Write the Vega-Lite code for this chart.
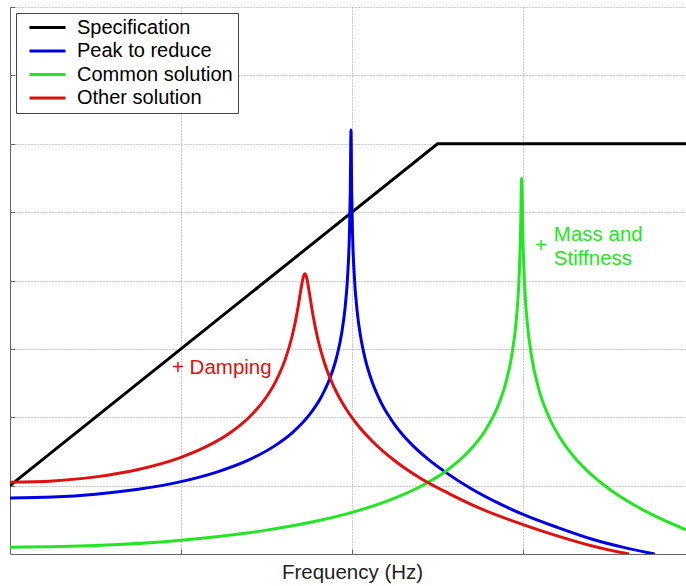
{
  "$schema": "https://vega.github.io/schema/vega-lite/v6.json",
  "width": 676,
  "height": 547,
  "autosize": {"type": "none"},
  "padding": {"left": 10, "top": 7, "right": 0, "bottom": 32},
  "background": "white",
  "config": {"view": {"stroke": null}, "font": "Liberation Sans"},
  "datasets": {
    "curves": [
      {"series": "Specification", "x": 0, "y": 1},
      {"series": "Specification", "x": 2.5, "y": 6},
      {"series": "Specification", "x": 3.953, "y": 6},

      {"series": "Peak to reduce", "x": 0, "y": 0.82},
      {"series": "Peak to reduce", "x": 0.25, "y": 0.833},
      {"series": "Peak to reduce", "x": 0.5, "y": 0.874},
      {"series": "Peak to reduce", "x": 0.75, "y": 0.946},
      {"series": "Peak to reduce", "x": 1.0, "y": 1.059},
      {"series": "Peak to reduce", "x": 1.2, "y": 1.191},
      {"series": "Peak to reduce", "x": 1.4, "y": 1.38},
      {"series": "Peak to reduce", "x": 1.55, "y": 1.585},
      {"series": "Peak to reduce", "x": 1.65, "y": 1.772},
      {"series": "Peak to reduce", "x": 1.75, "y": 2.034},
      {"series": "Peak to reduce", "x": 1.82, "y": 2.297},
      {"series": "Peak to reduce", "x": 1.87, "y": 2.566},
      {"series": "Peak to reduce", "x": 1.91, "y": 2.879},
      {"series": "Peak to reduce", "x": 1.94, "y": 3.237},
      {"series": "Peak to reduce", "x": 1.96, "y": 3.615},
      {"series": "Peak to reduce", "x": 1.975, "y": 4.092},
      {"series": "Peak to reduce", "x": 1.985, "y": 4.696},
      {"series": "Peak to reduce", "x": 1.99, "y": 5.322},
      {"series": "Peak to reduce", "x": 1.994, "y": 6.2},
      {"series": "Peak to reduce", "x": 1.998, "y": 5.32},
      {"series": "Peak to reduce", "x": 2.003, "y": 4.69},
      {"series": "Peak to reduce", "x": 2.013, "y": 4.084},
      {"series": "Peak to reduce", "x": 2.03, "y": 3.553},
      {"series": "Peak to reduce", "x": 2.05, "y": 3.184},
      {"series": "Peak to reduce", "x": 2.08, "y": 2.824},
      {"series": "Peak to reduce", "x": 2.12, "y": 2.501},
      {"series": "Peak to reduce", "x": 2.17, "y": 2.215},
      {"series": "Peak to reduce", "x": 2.245, "y": 1.908},
      {"series": "Peak to reduce", "x": 2.35, "y": 1.599},
      {"series": "Peak to reduce", "x": 2.45, "y": 1.376},
      {"series": "Peak to reduce", "x": 2.55, "y": 1.19},
      {"series": "Peak to reduce", "x": 2.7, "y": 0.95},
      {"series": "Peak to reduce", "x": 2.85, "y": 0.75},
      {"series": "Peak to reduce", "x": 3.0, "y": 0.58},
      {"series": "Peak to reduce", "x": 3.2, "y": 0.39},
      {"series": "Peak to reduce", "x": 3.4, "y": 0.22},
      {"series": "Peak to reduce", "x": 3.6, "y": 0.09},
      {"series": "Peak to reduce", "x": 3.77, "y": 0.0},

      {"series": "Common solution", "x": 0, "y": 0.1},
      {"series": "Common solution", "x": 0.5, "y": 0.124},
      {"series": "Common solution", "x": 1.0, "y": 0.202},
      {"series": "Common solution", "x": 1.5, "y": 0.349},
      {"series": "Common solution", "x": 1.8, "y": 0.486},
      {"series": "Common solution", "x": 2.0, "y": 0.609},
      {"series": "Common solution", "x": 2.2, "y": 0.769},
      {"series": "Common solution", "x": 2.4, "y": 0.987},
      {"series": "Common solution", "x": 2.55, "y": 1.214},
      {"series": "Common solution", "x": 2.68, "y": 1.494},
      {"series": "Common solution", "x": 2.78, "y": 1.811},
      {"series": "Common solution", "x": 2.85, "y": 2.145},
      {"series": "Common solution", "x": 2.9, "y": 2.511},
      {"series": "Common solution", "x": 2.935, "y": 2.918},
      {"series": "Common solution", "x": 2.96, "y": 3.411},
      {"series": "Common solution", "x": 2.975, "y": 3.941},
      {"series": "Common solution", "x": 2.985, "y": 4.649},
      {"series": "Common solution", "x": 2.992, "y": 5.493},
      {"series": "Common solution", "x": 2.999, "y": 4.647},
      {"series": "Common solution", "x": 3.009, "y": 3.936},
      {"series": "Common solution", "x": 3.025, "y": 3.375},
      {"series": "Common solution", "x": 3.05, "y": 2.887},
      {"series": "Common solution", "x": 3.09, "y": 2.43},
      {"series": "Common solution", "x": 3.15, "y": 2.011},
      {"series": "Common solution", "x": 3.22, "y": 1.685},
      {"series": "Common solution", "x": 3.3, "y": 1.416},
      {"series": "Common solution", "x": 3.4, "y": 1.161},
      {"series": "Common solution", "x": 3.5, "y": 0.959},
      {"series": "Common solution", "x": 3.62, "y": 0.761},
      {"series": "Common solution", "x": 3.75, "y": 0.582},
      {"series": "Common solution", "x": 3.953, "y": 0.353},

      {"series": "Other solution", "x": 0, "y": 1.05},
      {"series": "Other solution", "x": 0.25, "y": 1.069},
      {"series": "Other solution", "x": 0.5, "y": 1.128},
      {"series": "Other solution", "x": 0.75, "y": 1.236},
      {"series": "Other solution", "x": 1.0, "y": 1.414},
      {"series": "Other solution", "x": 1.15, "y": 1.573},
      {"series": "Other solution", "x": 1.3, "y": 1.796},
      {"series": "Other solution", "x": 1.4, "y": 2.004},
      {"series": "Other solution", "x": 1.5, "y": 2.3},
      {"series": "Other solution", "x": 1.56, "y": 2.555},
      {"series": "Other solution", "x": 1.61, "y": 2.85},
      {"series": "Other solution", "x": 1.65, "y": 3.188},
      {"series": "Other solution", "x": 1.68, "y": 3.547},
      {"series": "Other solution", "x": 1.7, "y": 3.849},
      {"series": "Other solution", "x": 1.715, "y": 4.05},
      {"series": "Other solution", "x": 1.725, "y": 4.098},
      {"series": "Other solution", "x": 1.735, "y": 4.04},
      {"series": "Other solution", "x": 1.75, "y": 3.829},
      {"series": "Other solution", "x": 1.77, "y": 3.518},
      {"series": "Other solution", "x": 1.8, "y": 3.144},
      {"series": "Other solution", "x": 1.84, "y": 2.787},
      {"series": "Other solution", "x": 1.89, "y": 2.467},
      {"series": "Other solution", "x": 1.95, "y": 2.182},
      {"series": "Other solution", "x": 2.02, "y": 1.927},
      {"series": "Other solution", "x": 2.12, "y": 1.646},
      {"series": "Other solution", "x": 2.25, "y": 1.364},
      {"series": "Other solution", "x": 2.4, "y": 1.108},
      {"series": "Other solution", "x": 2.57, "y": 0.88},
      {"series": "Other solution", "x": 2.76, "y": 0.655},
      {"series": "Other solution", "x": 3.0, "y": 0.43},
      {"series": "Other solution", "x": 3.2, "y": 0.265},
      {"series": "Other solution", "x": 3.4, "y": 0.12},
      {"series": "Other solution", "x": 3.5, "y": 0.06},
      {"series": "Other solution", "x": 3.62, "y": 0.0}
    ],
    "notes": [
      {"group": "red", "x": 0.947, "y": 2.72, "label": "+ Damping"},
      {"group": "green", "x": 3.07, "y": 4.5, "label": "+"},
      {"group": "green", "x": 3.18, "y": 4.66, "label": "Mass and"},
      {"group": "green", "x": 3.18, "y": 4.32, "label": "Stiffness"}
    ]
  },
  "encoding": {
    "x": {
      "field": "x", "type": "quantitative",
      "scale": {"domain": [0, 3.953], "nice": false, "zero": false},
      "axis": {
        "title": "Frequency (Hz)", "values": [1, 2, 3], "labels": false,
        "tickSize": -5, "tickColor": "#666", "domainColor": "#666",
        "grid": true, "gridDash": [1, 2], "gridColor": "#999",
        "titleFontSize": 20.5, "titleFontWeight": "normal", "titleColor": "#222",
        "titleFont": "Liberation Sans", "titlePadding": 8, "titleX": 342
      }
    },
    "y": {
      "field": "y", "type": "quantitative",
      "scale": {"domain": [0, 8], "nice": false},
      "axis": {
        "title": null, "values": [1, 2, 3, 4, 5, 6, 7, 8], "labels": false,
        "tickSize": -5, "tickColor": "#666", "domainColor": "#666",
        "grid": true, "gridDash": [1, 2], "gridColor": "#999"
      }
    }
  },
  "layer": [
    {
      "data": {"name": "curves"},
      "transform": [{"filter": "datum.series === 'Specification'"}],
      "mark": {"type": "line", "strokeWidth": 3, "interpolate": "linear", "clip": true},
      "encoding": {
        "color": {
          "field": "series", "type": "nominal",
          "scale": {
            "domain": ["Specification", "Peak to reduce", "Common solution", "Other solution"],
            "range": ["#000000", "#0000e6", "#22e622", "#e01010"]
          },
          "legend": {
            "title": null, "orient": "none", "legendX": 6, "legendY": 6,
            "symbolType": "M-3,0H3", "symbolSize": 144, "symbolStrokeWidth": 3, "symbolOffset": 17,
            "labelFontSize": 20, "labelFont": "Liberation Sans", "labelColor": "#000",
            "labelOffset": 19.5, "rowPadding": 3.5, "padding": 4.5,
            "labelExpr": "datum.label + '\u00a0\u00a0\u2009'",
            "strokeColor": "#444", "fillColor": "white", "cornerRadius": 0, "labelLimit": 400
          }
        }
      }
    },
    {
      "data": {"name": "curves"},
      "transform": [{"filter": "datum.series !== 'Specification'"}],
      "mark": {"type": "line", "strokeWidth": 3, "interpolate": "monotone", "clip": true},
      "encoding": {
        "color": {"field": "series", "type": "nominal"}
      }
    },
    {
      "data": {"name": "notes"},
      "transform": [{"filter": "datum.group === 'red'"}],
      "mark": {"type": "text", "align": "left", "baseline": "middle", "fontSize": 20.5, "font": "Liberation Sans", "color": "#e01010"},
      "encoding": {
        "text": {"field": "label"}
      }
    },
    {
      "data": {"name": "notes"},
      "transform": [{"filter": "datum.group === 'green'"}],
      "mark": {"type": "text", "align": "left", "baseline": "middle", "fontSize": 20.5, "font": "Liberation Sans", "color": "#22e622"},
      "encoding": {
        "text": {"field": "label"}
      }
    }
  ]
}
